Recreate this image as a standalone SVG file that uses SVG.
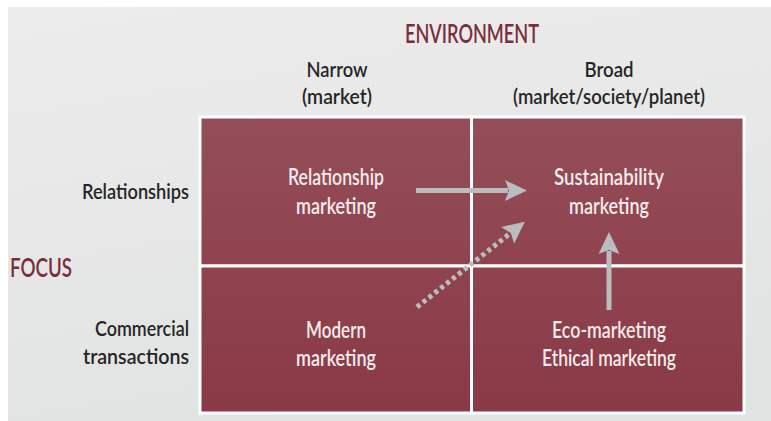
<svg xmlns="http://www.w3.org/2000/svg" width="771" height="421" viewBox="0 0 771 421">
<defs>
<linearGradient id="bg" x1="0" y1="0" x2="0.3" y2="1">
<stop offset="0" stop-color="#ececec"/>
<stop offset="1" stop-color="#e2e3e3"/>
</linearGradient>
<linearGradient id="cell" gradientUnits="userSpaceOnUse" x1="0" y1="117" x2="0" y2="413">
<stop offset="0" stop-color="#944e59"/>
<stop offset="1" stop-color="#8a3946"/>
</linearGradient>
<marker id="head" viewBox="0 0 22 21" markerWidth="22" markerHeight="21" refX="3" refY="10.5" orient="auto" markerUnits="userSpaceOnUse">
<path d="M0,0 L22,10.5 L0,21 L4,10.5 Z" fill="#b9bdbe"/>
</marker>
<style>
text{font-family:Lato,"Open Sans","Liberation Sans",sans-serif;font-weight:600;}
.lbl{font-size:21.5px;fill:#262626;}
.ttl{font-size:26px;fill:#7a2e3b;}
.in{font-size:23px;fill:#f7ebed;text-anchor:middle;}
.m{text-anchor:middle;}
.e{text-anchor:end;}
.c{fill:url(#cell);stroke:#ffffff;stroke-width:3;}
.arr{stroke:#b9bdbe;stroke-width:5;fill:none;marker-end:url(#head);}
</style>
</defs>
<rect x="0" y="0" width="771" height="421" fill="#ffffff"/>
<rect x="8" y="7" width="763" height="414" fill="url(#bg)"/>

<g id="headers">
<text class="ttl m" x="472" y="43" textLength="134" lengthAdjust="spacingAndGlyphs">ENVIRONMENT</text>
<text class="lbl m" x="337" y="77" textLength="61" lengthAdjust="spacingAndGlyphs">Narrow</text>
<text class="lbl m" x="337" y="103.5" textLength="70" lengthAdjust="spacingAndGlyphs">(market)</text>
<text class="lbl m" x="609" y="77" textLength="49" lengthAdjust="spacingAndGlyphs">Broad</text>
<text class="lbl m" x="609" y="103.5" textLength="192" lengthAdjust="spacingAndGlyphs">(market/society/planet)</text>
<text class="ttl" x="10" y="277" textLength="62" lengthAdjust="spacingAndGlyphs">FOCUS</text>
<text class="lbl e" x="189" y="199" textLength="107" lengthAdjust="spacingAndGlyphs">Relationships</text>
<text class="lbl e" x="189" y="336" textLength="94" lengthAdjust="spacingAndGlyphs">Commercial</text>
<text class="lbl e" x="189" y="364" textLength="106" lengthAdjust="spacingAndGlyphs">transactions</text>
</g>

<g id="relationship-marketing">
<rect class="c" x="200" y="117" width="271.5" height="149"/>
<text class="in" x="336" y="185" textLength="96" lengthAdjust="spacingAndGlyphs">Relationship</text>
<text class="in" x="336" y="214" textLength="80" lengthAdjust="spacingAndGlyphs">marketing</text>
</g>
<g id="sustainability-marketing">
<rect class="c" x="471.5" y="117" width="272.5" height="149"/>
<text class="in" x="609" y="185" textLength="110" lengthAdjust="spacingAndGlyphs">Sustainability</text>
<text class="in" x="609" y="214" textLength="80" lengthAdjust="spacingAndGlyphs">marketing</text>
</g>
<g id="modern-marketing">
<rect class="c" x="200" y="266" width="271.5" height="147"/>
<text class="in" x="336" y="338" textLength="60" lengthAdjust="spacingAndGlyphs">Modern</text>
<text class="in" x="336" y="366" textLength="80" lengthAdjust="spacingAndGlyphs">marketing</text>
</g>
<g id="eco-ethical-marketing">
<rect class="c" x="471.5" y="266" width="272.5" height="147"/>
<text class="in" x="609" y="338" textLength="114" lengthAdjust="spacingAndGlyphs">Eco-marketing</text>
<text class="in" x="609" y="366" textLength="134" lengthAdjust="spacingAndGlyphs">Ethical marketing</text>
</g>

<g id="connectors">
<line class="arr" x1="416" y1="190.5" x2="508" y2="190.5"/>
<line class="arr" x1="609" y1="310" x2="609" y2="251"/>
<line class="arr" x1="417" y1="307" x2="510" y2="233.5" stroke-width="4.5" stroke-dasharray="4 3.5"/>
</g>
</svg>
